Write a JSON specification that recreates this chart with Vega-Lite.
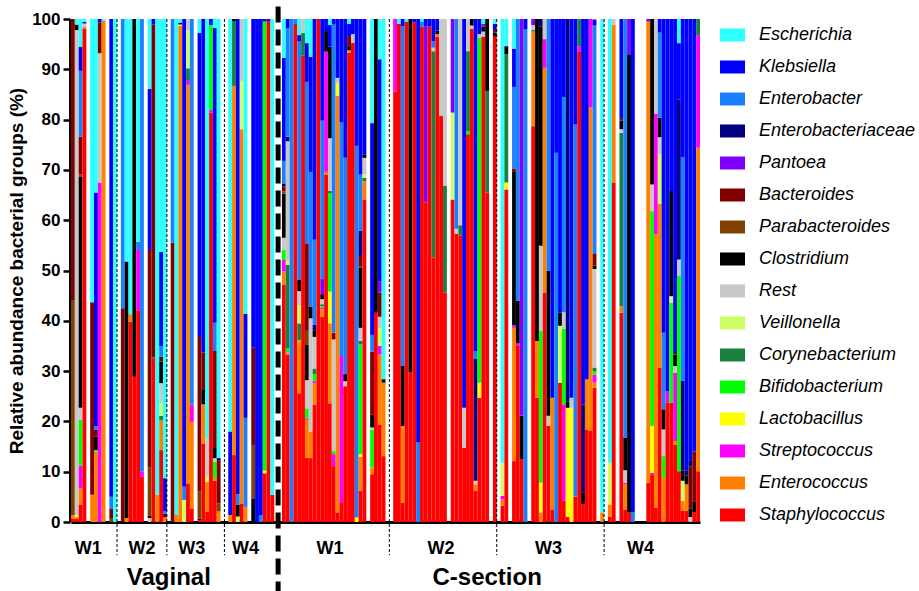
{
"$schema": "https://vega.github.io/schema/vega-lite/v6.json",
"width": 629, "height": 503,
"autosize": {"type": "none"},
"padding": {"left": 71, "top": 19, "right": 219, "bottom": 69},
"background": "white",
"config": {"view": {"stroke": null}, "font": "Liberation Sans"},
"datasets": {
"taxa": [{"k":"S","name":"Staphylococcus","r":1},{"k":"E","name":"Enterococcus","r":2},{"k":"St","name":"Streptococcus","r":3},{"k":"L","name":"Lactobacillus","r":4},{"k":"Bi","name":"Bifidobacterium","r":5},{"k":"Co","name":"Corynebacterium","r":6},{"k":"V","name":"Veillonella","r":7},{"k":"R","name":"Rest","r":8},{"k":"Cl","name":"Clostridium","r":9},{"k":"Pb","name":"Parabacteroides","r":10},{"k":"B","name":"Bacteroides","r":11},{"k":"P","name":"Pantoea","r":12},{"k":"Ea","name":"Enterobacteriaceae","r":13},{"k":"Eb","name":"Enterobacter","r":14},{"k":"K","name":"Klebsiella","r":15},{"k":"Es","name":"Escherichia","r":16}],
"bars": [
{"id":1,"S":0.7,"E":0.7,"Pb":42.7,"B":55.9},
{"id":2,"S":0.6,"E":0.4,"L":0.3,"R":96.5,"Cl":1.1,"Es":1.1},
{"id":3,"S":3.5,"E":3.2,"St":4.5,"Bi":9.1,"R":2.4,"Cl":45.9,"Pb":0.5,"B":7.5,"Eb":13.1,"K":4.8,"Es":5.5},
{"id":4,"S":98.1,"E":0.3,"R":0.7,"K":0.3,"Es":0.6},
{"id":5,"S":0},
{"id":6,"E":5.4,"B":38.3,"Es":56.3},
{"id":7,"E":14,"Bi":0.3,"Cl":2.7,"B":1.3,"Eb":0.7,"K":46.5,"Es":34.5},
{"id":8,"St":67.5,"R":25.7,"B":6.1,"K":0.7},
{"id":9,"E":99.7,"Es":0.3},
{"id":10,"S":0},
{"id":11,"Pb":0.8,"B":1.9,"Eb":2.3,"K":95},
{"id":12,"Es":100},
{"id":13,"S":0},
{"id":14,"B":42.5,"Eb":57.5},
{"id":15,"E":0.8,"Cl":51,"Es":48.2},
{"id":16,"S":39.8,"E":1.5,"Es":58.7},
{"id":17,"S":28.9,"Cl":71.1},
{"id":18,"S":42.1,"St":12,"Eb":1.6,"Es":44.3},
{"id":19,"S":9,"St":1,"Eb":90},
{"id":20,"S":0},
{"id":21,"R":0.8,"Cl":0.4,"Pb":9.7,"B":43.2,"K":32,"Es":13.9},
{"id":22,"S":32.4,"Co":0.3,"B":66.2,"K":1.1},
{"id":23,"E":5.4,"Es":94.6},
{"id":24,"S":14.3,"E":6,"Co":0.8,"V":2.5,"R":4,"Cl":4.3,"B":1,"Eb":2.1,"K":18.7,"Es":46.3},
{"id":25,"E":0.9,"B":0.7,"Eb":0.6,"K":6.5,"Es":91.3},
{"id":26,"S":0},
{"id":27,"B":55.5,"Eb":44.5},
{"id":28,"E":1.4,"Es":98.6},
{"id":29,"E":98.6,"L":0.3,"Ea":0.4,"Es":0.7},
{"id":30,"V":4.4,"Eb":2.6,"K":93},
{"id":31,"S":7.7,"E":79.2,"St":0.8,"Co":2.5,"V":7.5,"R":2.3},
{"id":32,"S":2.7,"E":17.2,"St":3.4,"Eb":76.7},
{"id":33,"S":0},
{"id":34,"S":0.3,"Cl":0.4,"Pb":5.3,"B":30.8,"K":60.4,"Es":2.8},
{"id":35,"S":15.6,"E":7.8,"Cl":3,"B":7.3,"K":66.3},
{"id":36,"S":2.1,"E":5.9,"V":1,"R":7.6,"Es":83.4},
{"id":37,"S":81.4,"St":0.5,"Bi":16.9,"K":1.2},
{"id":38,"S":8.2,"E":0.5,"Bi":3.3,"R":0.7,"Cl":2,"B":19.3,"Eb":5.6,"K":58.6,"Es":1.9},
{"id":39,"E":2.1,"Pb":1.6,"B":8.6,"Ea":0.4,"Es":87.3},
{"id":40,"S":0},
{"id":41,"S":0},
{"id":42,"E":1.4,"K":16.6,"Es":82},
{"id":43,"S":13.3,"E":73.4,"Co":12.9,"Cl":0.4},
{"id":44,"V":1.1,"Cl":2.3,"Eb":2.1,"K":94.5},
{"id":45,"S":3.7,"E":74.4,"V":9.6,"R":12.3},
{"id":46,"E":3,"Eb":17.7,"K":20.7,"Es":58.6},
{"id":47,"S":0},
{"id":48,"Cl":4.7,"Pb":10.6,"B":19.4,"K":65.3},
{"id":49,"K":100},
{"id":50,"Eb":1.4,"K":98.6},
{"id":51,"S":9.7,"L":0.5,"Bi":89.3,"K":0.5},
{"id":52,"S":99.6,"K":0.4},
{"id":53,"S":5.4,"Es":94.6},
{"id":54,"S":0},
{"id":55,"S":0},
{"id":56,"S":47.2,"E":2.6,"St":2.3,"Bi":2,"R":2.4,"Cl":8.8,"Pb":0.4,"B":1,"Ea":0.6,"Eb":4.5,"K":20.5,"Es":7.7},
{"id":57,"S":33.3,"E":0.4,"Bi":0.8,"Co":16.6,"V":0.8,"R":23.8,"Ea":0.9,"Eb":21.5,"K":1.9},
{"id":58,"Eb":100},
{"id":59,"S":99,"Eb":1},
{"id":60,"S":25.6,"E":10.3,"Bi":0.3,"Co":3.3,"V":3.6,"R":2.8,"Cl":2.2,"Eb":47.4,"K":1.3,"Es":3.2},
{"id":61,"S":92.7,"Co":4.5,"R":2.8},
{"id":62,"S":12.8,"E":7.5,"St":0.3,"Bi":2,"R":5.6,"Cl":7,"Pb":2.8,"B":17.4,"Eb":32.1,"K":7.7,"Es":4.8},
{"id":63,"S":12.7,"E":5.3,"R":22.5,"Cl":2.3,"Eb":26.8,"K":22.9,"Es":7.5},
{"id":64,"S":23.3,"E":4.3,"St":0.4,"Bi":1.4,"Co":1.1,"R":6.3,"Cl":1.2,"Ea":1.2,"Eb":16.9,"K":43.9},
{"id":65,"S":100},
{"id":66,"S":40.8,"E":1.5,"St":0.3,"Bi":0.3,"Co":0.4,"R":1,"Cl":1,"P":3,"Eb":31.5,"K":20.2},
{"id":67,"S":69.1,"E":0.5,"St":23.9,"Cl":4.1,"K":2.4},
{"id":68,"S":23.6,"E":15.9,"L":6.3,"Bi":19.5,"Co":0.5,"R":10.5,"Cl":18.2,"K":4.3,"Es":1.2},
{"id":69,"S":11.1,"St":2.4,"Bi":0.6,"R":22.2,"B":1.3,"Eb":61.3,"K":1.1},
{"id":70,"S":1.9,"E":82.8,"L":2.6,"R":1,"K":11.7},
{"id":71,"S":3.8,"St":29.2,"Eb":46.5,"K":20.5},
{"id":72,"S":27,"R":1,"Cl":1.4,"Eb":43,"K":27.6},
{"id":73,"S":93.3,"E":0.5,"Cl":0.8,"B":2,"K":2.4,"Es":1},
{"id":74,"S":95.3,"R":1.7,"K":3},
{"id":75,"L":0.9,"Eb":73.9,"K":25.2},
{"id":76,"S":6.2,"E":6.8,"L":0.5,"Bi":21.8,"Co":0.7,"R":2.6,"Cl":11.9,"Pb":0.4,"B":2,"Ea":5,"Eb":11.2,"K":30.9},
{"id":77,"S":64.1,"E":3.7,"Co":0.6,"V":0.7,"R":3.3,"Cl":0.7,"K":26.9},
{"id":78,"S":0},
{"id":79,"S":9.5,"E":1.3,"Bi":7.6,"R":0.4,"Cl":2.5,"B":12.6,"Eb":3.3,"K":42.1,"Es":20.7},
{"id":80,"S":41.6,"Cl":58.4},
{"id":81,"S":19.4,"E":13.9,"St":1.7,"V":3.6,"R":2.2,"B":4.8,"P":2.3,"K":44.1,"Es":8},
{"id":82,"S":13.1,"E":14.6,"Cl":0.7,"Es":71.6},
{"id":83,"S":0},
{"id":84,"S":0},
{"id":85,"S":85.6,"St":14.4},
{"id":86,"S":99,"Es":1},
{"id":87,"S":3.8,"E":15.3,"Cl":11.9,"Eb":67.6,"K":1.4},
{"id":88,"S":99.5,"Es":0.5},
{"id":89,"S":29.7,"Cl":70.3},
{"id":90,"S":99.3,"K":0.7},
{"id":91,"Eb":15.8,"K":84.2},
{"id":92,"S":98.5,"Eb":1,"Es":0.5},
{"id":93,"S":63.5,"P":35,"K":1.5},
{"id":94,"S":98.5,"K":1.5},
{"id":95,"S":52.6,"Co":41,"R":0.7,"Eb":1.3,"K":4.4},
{"id":96,"S":96.5,"E":0.5,"Cl":0.7,"K":2.3},
{"id":97,"S":80.7,"R":19.3},
{"id":98,"S":45.6,"Co":21.2,"R":33.2},
{"id":99,"S":0},
{"id":100,"S":64.1,"V":17.3,"P":18.6},
{"id":101,"S":57.3,"R":1,"Eb":41.7},
{"id":102,"S":57,"Co":2,"R":41},
{"id":103,"S":14.8,"R":7.9,"K":77.3},
{"id":104,"S":77.1,"Bi":0.6,"Co":15.9,"R":6.4},
{"id":105,"S":98,"R":0.7,"Cl":1.3},
{"id":106,"S":6.2,"E":1.3,"R":0.7,"Ea":24.2,"Eb":1.6,"K":66},
{"id":107,"S":24.7,"L":3,"Bi":68.6,"R":0.7,"K":3},
{"id":108,"S":96.5,"R":1,"Cl":1,"P":0.5,"Es":1},
{"id":109,"S":65.5,"Co":20.2,"Cl":14.3},
{"id":110,"S":0},
{"id":111,"S":96.6,"Cl":0.7,"B":0.5,"K":1.2,"Es":1},
{"id":112,"S":0},
{"id":113,"S":3.2,"E":1.3,"St":0.7,"V":6.6,"Es":88.2},
{"id":114,"S":66.1,"L":1.4,"Co":25.5,"Cl":1.6,"Es":5.4},
{"id":115,"S":0},
{"id":116,"S":12.1,"E":26.5,"St":0.5,"Cl":30.5,"B":0.7,"Eb":16.2,"K":7.6,"Es":5.9},
{"id":117,"S":35,"St":0.5,"Cl":8.5,"Eb":56},
{"id":118,"S":12.5,"Cl":8.6,"P":78.9},
{"id":119,"Eb":98,"K":2},
{"id":120,"S":0},
{"id":121,"S":78.7,"E":18.8,"Co":0.3,"R":1,"P":1.2},
{"id":122,"S":24.7,"E":11.3,"Cl":64},
{"id":123,"E":1.9,"L":5.9,"Bi":30.2,"R":16.9,"Cl":43.6,"Ea":1.5},
{"id":124,"S":45.6,"E":44.7,"St":5.7,"R":4},
{"id":125,"S":19.1,"R":2,"Cl":28.8,"Eb":50.1},
{"id":126,"S":2.5,"E":22.2,"K":75.3},
{"id":127,"Eb":73.4,"K":26.6},
{"id":128,"S":27.7,"V":11.3,"Cl":2.6,"K":58.4},
{"id":129,"S":4.2,"St":19.2,"Bi":15,"R":3.3,"Eb":42.8,"K":15.5},
{"id":130,"S":1,"L":21.7,"Cl":1.3,"Ea":76},
{"id":131,"L":22.7,"R":2,"K":75.3},
{"id":132,"S":5,"Eb":74,"K":21},
{"id":133,"S":93.6,"St":1,"Co":5.4},
{"id":134,"S":3.5,"Cl":2.3,"Ea":17.6,"K":76.6},
{"id":135,"S":18.4,"E":10,"K":71.6},
{"id":136,"S":18.1,"E":64.3,"St":17.6},
{"id":137,"S":26.7,"E":1,"St":1.6,"Bi":0.7,"Co":0.7,"R":19.6,"Cl":0.7,"B":2.3,"Eb":45.4,"K":1.2},
{"id":138,"S":0},
{"id":139,"E":1.9,"Es":98.1},
{"id":140,"S":0},
{"id":141,"S":1,"E":2.5,"V":8.3,"Es":88.2},
{"id":142,"S":67.5,"E":31.3,"R":1.2},
{"id":143,"S":0},
{"id":144,"S":41.6,"E":1.3,"Co":34.5,"R":0.7,"Cl":1.7,"B":0.5,"K":19.7},
{"id":145,"S":2.5,"E":5,"St":0.3,"R":2.5,"Cl":6.5,"Eb":83.2},
{"id":146,"S":1.9,"Cl":91.1,"P":7},
{"id":147,"Eb":2,"K":98},
{"id":148,"S":0},
{"id":149,"S":0},
{"id":150,"S":0},
{"id":151,"S":7.8,"E":91.7,"P":0.5},
{"id":152,"S":9.5,"St":0.3,"L":9.3,"Bi":42.7,"R":5.3,"Cl":32.9},
{"id":153,"S":2.8,"E":54.4,"St":24,"R":18.8},
{"id":154,"S":30.7,"E":32.5,"V":9.9,"R":3.4,"Cl":3.9,"Eb":16.9,"K":2.7},
{"id":155,"E":8.8,"Bi":4.3,"R":5.3,"Cl":4,"Eb":15.2,"K":62.4},
{"id":156,"S":23.8,"St":2.2,"K":74},
{"id":157,"S":23.7,"Bi":19.9,"V":1.3,"Cl":20.9,"K":34.2},
{"id":158,"S":15.4,"E":0.7,"St":13.6,"R":1.3,"Cl":2.3,"B":0.3,"K":66.4},
{"id":159,"S":10.1,"Bi":38.8,"R":3.3,"Ea":31.8,"K":11.2,"Es":4.8},
{"id":160,"S":2.2,"E":2,"V":4,"Cl":2,"Ea":17.9,"Eb":44.4,"K":27.5},
{"id":161,"S":2.2,"E":5.3,"Cl":1.7,"Ea":1,"K":89.8},
{"id":162,"R":1,"Cl":1.7,"B":8.3,"Ea":1.3,"K":87.7},
{"id":163,"S":2,"Cl":2,"B":10,"K":86},
{"id":164,"S":10.1,"E":64.3,"St":22.4,"Co":3.2}
],
"seps": [{"id":13},{"id":26},{"id":41},{"id":84},{"id":112},{"id":140}],
"weeks": [{"id":5,"t":"W1"},{"id":19,"t":"W2"},{"id":32,"t":"W3"},{"id":46,"t":"W4"},{"id":68,"t":"W1"},{"id":97,"t":"W2"},{"id":125,"t":"W3"},{"id":149,"t":"W4"}],
"groups": [{"id":26,"t":"Vaginal"},{"id":109,"t":"C-section"}]
},
"layer": [
{
"data": {"name": "bars"},
"transform": [
{"fold": ["S","E","St","L","Bi","Co","V","R","Cl","Pb","B","P","Ea","Eb","K","Es"], "as": ["k","v"]},
{"filter": "isValid(datum.v)"},
{"lookup": "k", "from": {"data": {"name": "taxa"}, "key": "k", "fields": ["name","r"]}}
],
"mark": {"type": "bar", "clip": false, "opacity": 1, "strokeWidth": 0},
"encoding": {
"x": {"field": "id", "type": "ordinal", "scale": {"paddingInner": 0, "paddingOuter": 0},
 "axis": {"labels": false, "ticks": false, "title": null, "domainWidth": 3, "domainColor": "black"}},
"y": {"field": "v", "type": "quantitative", "stack": "zero", "scale": {"domain": [0, 100], "nice": false},
 "axis": {"title": "Relative abundance bacterial groups (%)", "values": [0,10,20,30,40,50,60,70,80,90,100], "grid": false,
  "offset": 1, "domainWidth": 3, "domainColor": "black", "tickColor": "black", "tickWidth": 2.5, "tickSize": 7,
  "labelFont": "Liberation Sans", "labelFontWeight": "bold", "labelFontSize": 17, "labelColor": "black", "labelPadding": 3,
  "titleFont": "Liberation Sans", "titleFontWeight": "bold", "titleFontSize": 19, "titleColor": "black", "titlePadding": 5}},
"color": {"field": "name", "type": "nominal",
 "scale": {"domain": ["Escherichia","Klebsiella","Enterobacter","Enterobacteriaceae","Pantoea","Bacteroides","Parabacteroides","Clostridium","Rest","Veillonella","Corynebacterium","Bifidobacterium","Lactobacillus","Streptococcus","Enterococcus","Staphylococcus"],
  "range": ["#2EFFFF","#0000FF","#1A80FF","#000080","#8000FF","#800000","#804000","#000000","#C8C8C8","#CCFF66","#1A8040","#00FF00","#FFFF00","#FF00FF","#FF8000","#FF0000"]},
 "legend": {"title": null, "orient": "none", "legendX": 649, "legendY": 3.5, "padding": 0,
  "symbolType": "M-1,-0.52H1V0.52H-1Z", "symbolSize": 625, "symbolStrokeWidth": 0, "symbolOpacity": 1,
  "rowPadding": 10, "labelOffset": 14, "labelFont": "Liberation Sans", "labelFontStyle": "italic", "labelFontSize": 18, "labelColor": "black", "labelLimit": 300}},
"order": {"field": "r", "type": "quantitative"}
}
},
{
"data": {"name": "seps"},
"mark": {"type": "rule", "color": "black", "strokeWidth": 1, "strokeDash": [3, 2]},
"encoding": {
"x": {"field": "id", "type": "ordinal", "bandPosition": 0},
"y": {"datum": 100},
"y2": {"datum": -6.6}
}
},
{
"data": {"values": [{"id": 55}]},
"mark": {"type": "rule", "color": "black", "strokeWidth": 5, "strokeDash": [16, 7]},
"encoding": {
"x": {"field": "id", "type": "ordinal", "bandPosition": 0},
"y": {"datum": 102.5},
"y2": {"datum": -14}
}
},
{
"data": {"name": "weeks"},
"mark": {"type": "text", "font": "Liberation Sans", "fontWeight": "bold", "fontSize": 18, "baseline": "middle", "align": "center", "color": "black"},
"encoding": {
"x": {"field": "id", "type": "ordinal"},
"y": {"datum": -5.4},
"text": {"field": "t"}
}
},
{
"data": {"name": "groups"},
"mark": {"type": "text", "font": "Liberation Sans", "fontWeight": "bold", "fontSize": 24, "baseline": "middle", "align": "center", "color": "black"},
"encoding": {
"x": {"field": "id", "type": "ordinal"},
"y": {"datum": -11.1},
"text": {"field": "t"}
}
}
]
}
